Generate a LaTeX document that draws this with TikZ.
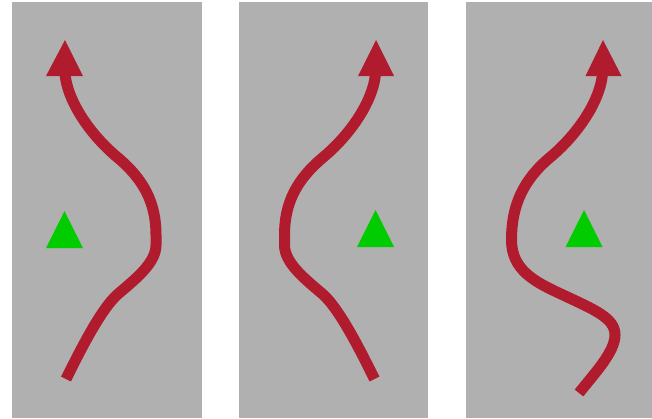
\documentclass[tikz,border=0pt]{standalone}
\begin{document}
\begin{tikzpicture}[x=1pt,y=-1pt,
  panel/.style={fill=panelgray,draw=none},
  shaft/.style={draw=arrowred,line width=11pt,line cap=butt},
  arrowhead/.style={fill=arrowred,draw=none},
  marker/.style={fill=markergreen,draw=none}]
\definecolor{panelgray}{RGB}{176,176,176}
\definecolor{arrowred}{RGB}{176,27,46}
\definecolor{markergreen}{RGB}{0,204,0}
\useasboundingbox (0,0) rectangle (652,418);
% panels
\fill[panel] (12,2) rectangle (202,418);
\fill[panel] (239,2) rectangle (428,418);
\fill[panel] (466,2) rectangle (652,418);
% panel 1
\draw[shaft] (66,379) .. controls (78,355) and (100.5,309) .. (118,294)
  .. controls (135.5,279) and (156,263) .. (156,245) -- (156,235)
  .. controls (156,203) and (144,179.5) .. (117,157)
  .. controls (93,137) and (68,104) .. (65,74);
\fill[arrowhead] (65,40) -- (83,76) -- (46,76) -- cycle;
\fill[marker] (64.5,211) -- (83,248) -- (46,248) -- cycle;
% panel 2
\draw[shaft] (374.5,379) .. controls (362.5,355) and (340,309) .. (322.5,294)
  .. controls (305,279) and (284.5,263) .. (284.5,245) -- (284.5,235)
  .. controls (284.5,203) and (296.5,179.5) .. (323.5,157)
  .. controls (347.5,137) and (372.5,104) .. (375.5,74);
\fill[arrowhead] (376,40) -- (394,76) -- (358,76) -- cycle;
\fill[marker] (375.5,210) -- (394,247) -- (357,247) -- cycle;
% panel 3
\draw[shaft] (579,393) .. controls (594,374) and (615,352) .. (615,335)
  .. controls (615,318) and (595,310) .. (561,294)
  .. controls (535,282) and (511.5,270) .. (511.5,240)
  .. controls (511.5,205) and (523.5,179.5) .. (550.5,157)
  .. controls (574.5,137) and (599.5,104) .. (602.5,74);
\fill[arrowhead] (603,40) -- (621.5,76) -- (585.5,76) -- cycle;
\fill[marker] (584,210) -- (602.5,247) -- (565.5,247) -- cycle;
\end{tikzpicture}
\end{document}
